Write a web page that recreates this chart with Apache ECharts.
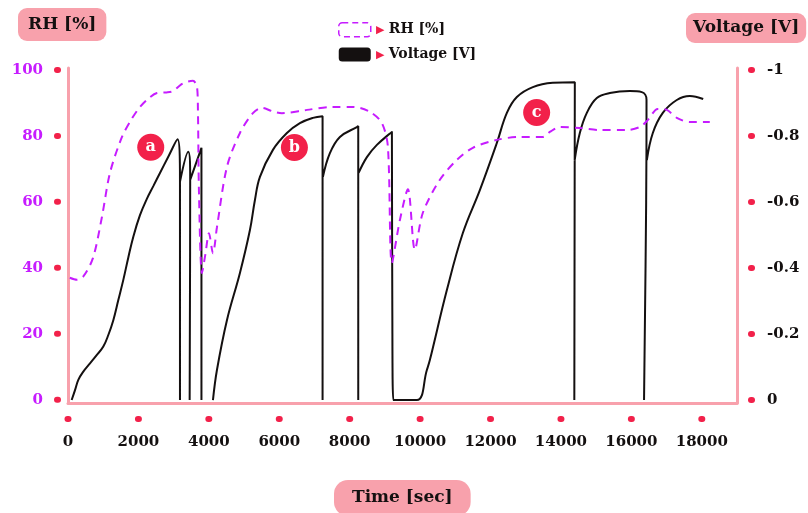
<!DOCTYPE html>
<html>
<head>
<meta charset="utf-8">
<script src="https://cdn.jsdelivr.net/npm/echarts@6/dist/echarts.min.js"></script>
<style>
html,body{margin:0;padding:0;background:#fff;}
#chart{width:808px;height:513px;}
</style>
</head>
<body>
<div id="chart"></div>
<script>
// ---- data ----
const timeTicks = [0, 2000, 4000, 6000, 8000, 10000, 12000, 14000, 16000, 18000];
const rhTicks = [0, 20, 40, 60, 80, 100];
const voltTicks = [0, -0.2, -0.4, -0.6, -0.8, -1];
const voltTickLabels = ['0', '-0.2', '-0.4', '-0.6', '-0.8', '-1'];

const rhTime = [50, 255, 430, 710, 965, 1192, 1533, 1800, 2044, 2300, 2527, 2800, 2981, 3200, 3378, 3549, 3662, 3690, 3720, 3804,
  3900, 4003, 4117, 4230, 4514, 4883, 5252, 5508, 5800, 6075, 6785, 7524, 8092, 8574, 8915, 9085, 9199,
  9426, 9653, 9851, 10078, 10561, 11043, 11498, 12180, 12833, 13486, 13684, 13968, 14536, 15104, 15870,
  16239, 16466, 16750, 17006, 17290, 17659, 18227];
const rhValue = [37.0, 36.4, 37.3, 43, 55.5, 68.8, 79.7, 85, 88.8, 91.5, 93, 93.2, 93.6, 95.5, 96.4, 96.7, 95, 87.8, 62.6, 38.4,
  44, 50.5, 44.4, 52.3, 70.6, 80.9, 86.9, 88.5, 87.5, 86.9, 87.9, 88.8, 88.8, 87.3, 83.9, 76.7, 41.5,
  54.5, 63.8, 45.5, 56.7, 66.7, 72.7, 76.4, 78.8, 79.7, 79.7, 81.2, 82.7, 82.4, 81.8, 81.8,
  82.7, 84.8, 88.2, 87.9, 85.5, 84.2, 84.2];

// null = break in the trace
const voltTime = [104, 199, 293, 435, 625, 814, 1003, 1145, 1287, 1429, 1571, 1713, 1855, 2044, 2233, 2423, 2612, 2848, 3110, 3180, 3180, null,
  3180, 3415, 3470, 3455, null,
  3470, 3790, 3790, null,
  4117, 4230, 4514, 4883, 5167, 5309, 5451, 5820, 6217, 6586, 6956, 7230, 7230, null,
  7240, 7438, 7722, 8205, 8243, 8243, null,
  8253, 8489, 8773, 9199, 9210, 9240, 9908, 10192, 10277, 10760, 11214, 11697, 12180, 12464, 12748, 13202, 13770, 14394, 14380, null,
  14390, 14536, 14735, 15019, 15388, 15956, 16296, 16430, 16420, 16360, null,
  16440, 16609, 16893, 17290, 17659, 18040];
const voltValue = [0, -0.030, -0.061, -0.086, -0.111, -0.136, -0.162, -0.197, -0.242, -0.303, -0.364, -0.432, -0.495, -0.560, -0.608, -0.648, -0.688, -0.737, -0.790, -0.661, 0, null,
  -0.661, -0.752, -0.667, 0, null,
  -0.667, -0.764, 0, null,
  0, -0.091, -0.242, -0.385, -0.515, -0.606, -0.676, -0.758, -0.809, -0.839, -0.855, -0.860, 0, null,
  -0.676, -0.748, -0.797, -0.827, -0.830, 0, null,
  -0.688, -0.736, -0.773, -0.812, -0.3, 0, 0, -0.091, -0.121, -0.333, -0.506, -0.636, -0.779, -0.870, -0.918, -0.948, -0.961, -0.963, 0, null,
  -0.727, -0.809, -0.870, -0.915, -0.930, -0.936, -0.933, -0.91, -0.6, 0, null,
  -0.727, -0.809, -0.870, -0.909, -0.921, -0.912];

const annoLabels = ['a', 'b', 'c'];
const annoTime = [2350, 6430, 13310];
const annoVolt = [-0.766, -0.765, -0.871];

// ---- styles ----
const PINK = '#f8a1ac';
const RED = '#f2214a';
const PURPLE = '#c61cff';
const INK = '#141010';
const FONT = 'DejaVu Serif';

const rhData = rhTime.map((t, i) => [t, rhValue[i]]);
const voltData = voltTime.map((t, i) => (t === null ? null : [t, voltValue[i]]));

const dotRich = { width: 7, height: 6, borderRadius: 3, backgroundColor: RED };

const chart = echarts.init(document.getElementById('chart'), null, { renderer: 'canvas' });
chart.setOption({
  animation: false,
  backgroundColor: '#fff',
  title: [
    { text: 'RH [%]', left: 18, top: 8, backgroundColor: PINK, borderRadius: 9, padding: [6, 10],
      textStyle: { fontFamily: FONT, fontWeight: 'bold', fontSize: 17, lineHeight: 21, color: INK } },
    { text: 'Voltage [V]', left: 686, top: 13, backgroundColor: PINK, borderRadius: 9, padding: [5, 7],
      textStyle: { fontFamily: FONT, fontWeight: 'bold', fontSize: 17, lineHeight: 20, color: INK } },
    { text: 'Time [sec]', left: 334, top: 480, backgroundColor: PINK, borderRadius: 14, padding: [7, 18],
      textStyle: { fontFamily: FONT, fontWeight: 'bold', fontSize: 17, lineHeight: 22, color: INK } }
  ],
  legend: {
    left: 333, top: 17, orient: 'vertical',
    itemWidth: 32, itemHeight: 14, itemGap: 10,
    data: [
      { name: 'RH [%]', icon: 'roundRect',
        itemStyle: { color: 'rgba(0,0,0,0)', borderColor: PURPLE, borderWidth: 1.5, borderType: [6, 4] } },
      { name: 'Voltage [V]', icon: 'roundRect', itemStyle: { color: INK } }
    ],
    formatter: name => '{t|▶}{n|' + name + '}',
    textStyle: {
      rich: {
        t: { color: RED, fontSize: 11, padding: [0, 5, 0, 0] },
        n: { fontFamily: FONT, fontWeight: 'bold', fontSize: 14, color: INK }
      }
    }
  },
  grid: { left: 68, right: 71, top: 68, bottom: 110 },
  xAxis: {
    type: 'value', min: 0, max: 19000,
    axisLine: { onZero: false, lineStyle: { color: PINK, width: 3 } },
    axisTick: { show: false },
    splitLine: { show: false },
    axisLabel: {
      customValues: timeTicks, margin: 9,
      formatter: v => '{d|}\n{v|' + v + '}',
      rich: {
        d: Object.assign({ lineHeight: 14 }, dotRich),
        v: { fontFamily: FONT, fontWeight: 'bold', fontSize: 15, lineHeight: 33, color: INK }
      }
    }
  },
  yAxis: [
    {
      type: 'value', position: 'left', min: -1, max: 100.6,
      axisLine: { show: true, onZero: false, lineStyle: { color: PINK, width: 3 } },
      axisTick: { show: false },
      splitLine: { show: false },
      axisLabel: {
        customValues: rhTicks, margin: 7,
        formatter: v => '{v|' + v + '}{d|}',
        rich: {
          v: { fontFamily: FONT, fontWeight: 'bold', fontSize: 15, color: PURPLE, padding: [0, 11, 0, 0] },
          d: dotRich
        }
      }
    },
    {
      type: 'value', position: 'right', inverse: true, min: -1.006, max: 0.009,
      axisLine: { show: true, onZero: false, lineStyle: { color: PINK, width: 3 } },
      axisTick: { show: false },
      splitLine: { show: false },
      axisLabel: {
        customValues: voltTicks, margin: 11,
        formatter: v => {
          const i = voltTicks.findIndex(x => Math.abs(x - v) < 1e-9);
          return '{d|}{v|' + (i >= 0 ? voltTickLabels[i] : v) + '}';
        },
        rich: {
          v: { fontFamily: FONT, fontWeight: 'bold', fontSize: 15, color: INK, padding: [0, 0, 0, 12] },
          d: dotRich
        }
      }
    }
  ],
  series: [
    {
      name: 'RH [%]', type: 'line', yAxisIndex: 0, data: rhData,
      showSymbol: false, smooth: 0.3,
      lineStyle: { color: PURPLE, width: 2, type: [8, 6] },
      itemStyle: { color: PURPLE },
      z: 3
    },
    {
      name: 'Voltage [V]', type: 'line', yAxisIndex: 1, data: voltData,
      showSymbol: false, smooth: 0.4, connectNulls: false,
      lineStyle: { color: INK, width: 2 },
      itemStyle: { color: INK },
      z: 2,
      markPoint: {
        symbol: 'circle', symbolSize: 27,
        itemStyle: { color: RED },
        label: { show: true, position: 'inside', formatter: p => p.name,
          color: '#fff', fontFamily: FONT, fontWeight: 'bold', fontSize: 16 },
        data: annoLabels.map((l, i) => ({ name: l, coord: [annoTime[i], annoVolt[i]] }))
      }
    }
  ]
});
</script>
</body>
</html>
